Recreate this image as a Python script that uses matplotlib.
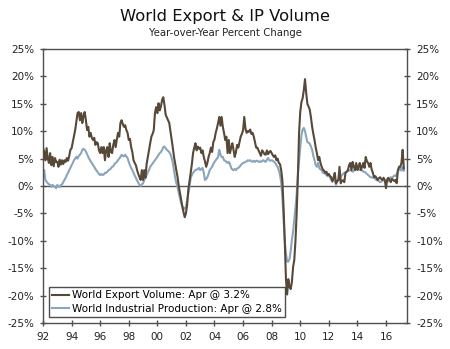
import numpy as np
import matplotlib
matplotlib.use("Agg")
import matplotlib.pyplot as plt

# monthly year-over-year % change, Jan 1992 .. Apr 2017
export_vol = [
    7.0, 6.2, 4.7, 6.9, 5.0, 4.2, 6.0, 3.8, 5.3, 3.6, 5.1, 4.4,        # 1992
    4.4, 3.5, 4.8, 3.9, 4.7, 4.0, 4.7, 4.4, 5.1, 4.6, 5.5, 6.6,        # 1993
    6.9, 8.0, 9.0, 10.2, 11.8, 13.3, 13.5, 12.0, 13.3, 11.5, 12.8, 13.5,  # 1994
    12.0, 10.2, 10.8, 9.0, 9.7, 8.8, 8.4, 8.8, 7.5, 8.0, 7.8, 6.5,     # 1995
    6.0, 7.1, 6.0, 7.1, 4.7, 6.5, 7.1, 5.3, 7.8, 6.2, 6.0, 7.5,        # 1996
    8.4, 7.1, 8.5, 9.7, 9.0, 11.5, 12.0, 11.3, 10.8, 11.1, 10.2, 9.7,  # 1997
    8.4, 8.6, 7.1, 6.2, 4.7, 4.2, 3.8, 2.9, 2.2, 1.6, 1.1, 2.9,        # 1998
    1.1, 2.9, 1.5, 4.0, 5.3, 6.6, 7.8, 9.0, 9.5, 10.2, 13.3, 14.4,     # 1999
    13.3, 15.1, 13.8, 14.5, 15.7, 16.2, 14.8, 13.0, 12.5, 12.0, 11.5, 10.0,  # 2000
    8.4, 7.0, 5.3, 4.0, 2.8, 1.6, 0.0, -1.2, -2.5, -3.8, -4.8, -5.7,   # 2001
    -5.0, -3.5, -0.7, 0.8, 2.4, 4.0, 6.0, 7.0, 7.8, 6.5, 7.2, 6.8,     # 2002
    7.0, 6.0, 6.5, 5.3, 4.5, 3.5, 4.2, 5.3, 6.0, 7.0, 6.2, 8.0,        # 2003
    8.5, 9.7, 10.5, 11.5, 12.6, 11.0, 12.6, 10.8, 9.7, 8.4, 9.0, 6.0,  # 2004
    8.4, 6.0, 7.0, 7.8, 6.5, 5.3, 6.2, 7.5, 7.0, 8.0, 9.0, 9.5,        # 2005
    10.2, 12.6, 10.5, 9.7, 10.0, 9.9, 10.3, 9.5, 9.7, 9.0, 8.0, 7.0,   # 2006
    7.0, 6.5, 6.0, 5.5, 6.5, 6.2, 5.8, 5.7, 6.5, 5.8, 6.2, 6.4,        # 2007
    6.0, 5.6, 5.3, 5.6, 4.7, 5.0, 4.2, 4.0, 2.9, 1.0, -4.0, -10.0,     # 2008
    -17.0, -19.8, -17.0, -18.4, -18.8, -17.5, -14.8, -13.5, -10.0, -5.0, 1.5, 9.6,  # 2009
    13.5, 15.3, 16.0, 17.5, 19.5, 17.0, 15.0, 14.5, 13.9, 12.5, 10.8, 9.5,  # 2010
    8.4, 7.0, 6.0, 4.7, 5.3, 4.2, 3.5, 3.0, 2.8, 2.4, 2.6, 2.0,        # 2011
    2.2, 1.8, 1.6, 0.8, 1.5, 2.4, 0.5, 0.9, 1.1, 3.5, 0.5, 1.0,        # 2012
    1.0, 0.7, 2.4, 2.6, 2.9, 3.8, 4.2, 2.9, 4.4, 3.5, 2.9, 4.2,        # 2013
    2.9, 3.6, 4.2, 2.9, 3.6, 4.2, 3.3, 5.3, 4.5, 4.2, 3.5, 4.2,        # 2014
    3.0, 2.4, 1.6, 1.8, 1.5, 1.1, 1.4, 1.6, 1.3, 1.1, 1.5, 1.1,        # 2015
    -0.4, 1.2, 1.5, 1.1, 0.7, 1.3, 1.1, 0.9, 1.1, 0.5, 2.9, 3.5,       # 2016
    3.5, 4.2, 6.6, 3.2,                                                # 2017
]

industrial_prod = [
    1.6, 2.9, 1.1, 0.8, 0.5, 0.3, 0.2, -0.2, 0.2, 0.0, -0.2, -0.4,     # 1992
    0.2, -0.1, -0.2, 0.2, 0.3, 0.7, 1.1, 1.5, 2.0, 2.4, 2.9, 3.3,      # 1993
    3.8, 4.2, 4.7, 5.0, 5.3, 5.0, 5.5, 5.7, 6.0, 6.6, 6.8, 6.6,        # 1994
    6.3, 5.8, 5.3, 4.9, 4.5, 4.2, 3.8, 3.5, 3.1, 2.8, 2.5, 2.2,        # 1995
    2.0, 2.2, 2.0, 2.1, 2.4, 2.4, 2.6, 2.9, 3.0, 3.2, 3.5, 3.6,        # 1996
    4.0, 4.2, 4.4, 4.7, 5.0, 5.3, 5.7, 5.5, 5.4, 5.7, 5.4, 5.1,        # 1997
    4.4, 3.8, 3.3, 2.9, 2.4, 1.9, 1.5, 1.0, 0.6, 0.2, 0.0, 0.3,        # 1998
    0.5, 1.1, 1.5, 2.0, 2.5, 2.9, 3.5, 3.8, 4.1, 4.4, 4.7, 5.0,        # 1999
    5.3, 5.7, 6.0, 6.2, 6.6, 7.1, 7.2, 6.9, 6.6, 6.4, 6.2, 5.8,        # 2000
    5.1, 4.2, 2.9, 1.5, 0.5, -0.2, -1.3, -2.2, -3.1, -3.7, -4.0, -4.2, # 2001
    -3.8, -2.6, -1.3, -0.2, 1.5, 2.0, 2.4, 2.7, 2.9, 3.0, 3.1, 3.3,    # 2002
    2.9, 3.1, 3.3, 2.4, 1.1, 1.3, 1.6, 2.2, 2.9, 3.2, 3.5, 4.0,        # 2003
    4.4, 4.7, 5.0, 5.3, 6.6, 5.7, 5.3, 5.3, 4.7, 4.6, 4.4, 4.2,        # 2004
    4.4, 4.0, 3.3, 3.0, 2.9, 3.1, 2.9, 3.2, 3.3, 3.5, 3.8, 4.0,        # 2005
    4.2, 4.3, 4.4, 4.5, 4.7, 4.6, 4.7, 4.5, 4.4, 4.6, 4.4, 4.6,        # 2006
    4.6, 4.4, 4.5, 4.4, 4.6, 4.7, 4.5, 4.4, 4.8, 5.1, 4.7, 4.6,        # 2007
    4.7, 4.6, 4.4, 4.2, 3.8, 3.5, 2.9, 2.0, 0.7, -2.0, -6.0, -10.0,    # 2008
    -12.3, -13.8, -13.8, -13.3, -11.8, -9.8, -8.3, -6.2, -4.0, -1.5, 2.0, 4.5,  # 2009
    7.0, 9.2, 10.3, 10.6, 10.0, 9.0, 8.0, 7.9, 7.7, 7.2, 6.6, 5.5,     # 2010
    4.7, 3.8, 3.5, 4.2, 3.3, 3.0, 2.9, 2.4, 2.4, 2.2, 2.0, 1.8,        # 2011
    2.0, 1.6, 1.1, 1.0, 1.1, 1.1, 0.2, 0.8, 1.1, 1.4, 1.6, 2.0,        # 2012
    2.2, 2.4, 2.5, 2.6, 2.7, 2.8, 2.9, 2.8, 2.6, 2.8, 3.0, 3.2,        # 2013
    3.3, 3.1, 2.9, 3.0, 2.8, 2.6, 2.6, 2.4, 2.2, 2.0, 1.8, 1.6,        # 2014
    1.6, 1.5, 1.5, 1.3, 1.1, 1.0, 0.9, 0.7, 0.8, 1.0, 1.1, 0.9,        # 2015
    0.8, 0.7, 0.9, 1.3, 1.6, 1.5, 1.7, 1.9, 1.8, 2.2, 2.6, 3.0,        # 2016
    3.3, 2.8, 3.5, 2.8,                                                # 2017
]

year_ticks = list(range(1992, 2017, 2))
year_labels = ["92", "94", "96", "98", "00", "02", "04", "06", "08", "10", "12", "14", "16"]
pct_ticks = list(range(-25, 30, 5))

t = 1992 + np.arange(len(export_vol)) / 12.0

export_col = "#574838"
ip_col = "#8ba5bb"
axis_col = "#505050"

fig = plt.figure(figsize=(4.5, 3.49), dpi=100)
ax = fig.add_axes([0.0956, 0.0745, 0.8088, 0.7851])

ax.axhline(0, color="#555555", lw=1.0, zorder=1)
ax.plot(t, export_vol, color=export_col, lw=1.5, zorder=3,
        label="World Export Volume: Apr @ 3.2%")
ax.plot(t, industrial_prod, color=ip_col, lw=1.5, zorder=2,
        label="World Industrial Production: Apr @ 2.8%")

ax.set_xlim(1992, 2017.47)
ax.set_ylim(-25, 25)
ax.set_xticks(year_ticks)
ax.set_xticklabels(year_labels)
ax.set_yticks(pct_ticks)
ax.set_yticklabels([f"{v}%" for v in pct_ticks])
ax.tick_params(axis="both", direction="inout", length=5, width=1, color=axis_col,
               labelsize=7.5, labelcolor="#222222")
ax.tick_params(axis="y", right=True, labelright=True, pad=4)
ax.tick_params(axis="x", pad=4)
for s in ax.spines.values():
    s.set_color(axis_col)
    s.set_linewidth(1.0)

leg = ax.legend(loc="lower left", bbox_to_anchor=(0.016, 0.022), borderaxespad=0,
                fontsize=7.5, frameon=True, fancybox=False, handlelength=1.6,
                handletextpad=0.3, borderpad=0.3, labelspacing=0.35)
leg.get_frame().set_edgecolor("#222222")
leg.get_frame().set_linewidth(1.0)

fig.text(0.5, 0.952, "World Export & IP Volume", ha="center", va="center",
         fontsize=11.8, color="#111111")
fig.text(0.5, 0.905, "Year-over-Year Percent Change", ha="center", va="center",
         fontsize=7.3, color="#222222")

fig.savefig("out.png", dpi=100)
